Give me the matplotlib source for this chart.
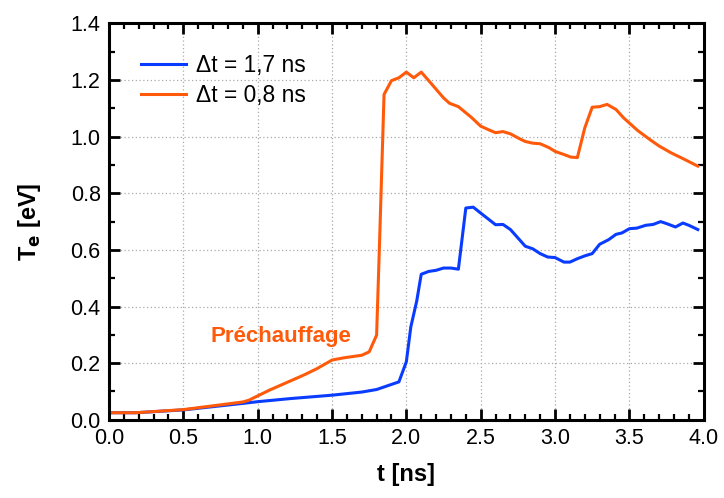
import matplotlib.pyplot as plt
from matplotlib.ticker import MultipleLocator, FormatStrFormatter

plt.rcParams['font.family'] = ['Liberation Sans', 'DejaVu Sans']

# dt = 1,7 ns (blue)
t_blue = [0.0, 0.18, 0.5, 0.9, 1.0, 1.22, 1.5, 1.70, 1.80, 1.95, 2.0, 2.03,
          2.07, 2.10, 2.15, 2.20, 2.25, 2.30, 2.35, 2.40, 2.45, 2.51, 2.60,
          2.65, 2.70, 2.80, 2.85, 2.90, 2.95, 3.00, 3.06, 3.10, 3.15, 3.20,
          3.25, 3.30, 3.36, 3.41, 3.45, 3.50, 3.55, 3.61, 3.66, 3.71, 3.75,
          3.81, 3.86, 3.90, 3.96]
te_blue = [0.025, 0.025, 0.035, 0.058, 0.064, 0.075, 0.087, 0.098, 0.107,
           0.134, 0.205, 0.328, 0.42, 0.514, 0.524, 0.528, 0.536, 0.536,
           0.532, 0.748, 0.751, 0.726, 0.689, 0.690, 0.672, 0.613, 0.604,
           0.587, 0.575, 0.573, 0.557, 0.557, 0.569, 0.579, 0.587, 0.620,
           0.636, 0.655, 0.660, 0.675, 0.677, 0.687, 0.690, 0.700, 0.693,
           0.681, 0.695, 0.687, 0.672]

# dt = 0,8 ns (orange)
t_orange = [0.0, 0.18, 0.5, 0.9, 0.94, 1.08, 1.31, 1.40, 1.5, 1.58, 1.70,
            1.75, 1.80, 1.82, 1.85, 1.90, 1.95, 2.0, 2.05, 2.10, 2.16, 2.25,
            2.29, 2.35, 2.44, 2.50, 2.555, 2.60, 2.65, 2.70, 2.76, 2.80, 2.85,
            2.90, 2.96, 3.00, 3.06, 3.105, 3.15, 3.20, 3.25, 3.30, 3.35, 3.41,
            3.46, 3.555, 3.645, 3.70, 3.78, 3.87, 3.96]
te_orange = [0.025, 0.025, 0.036, 0.063, 0.069, 0.105, 0.158, 0.181, 0.211,
             0.219, 0.228, 0.240, 0.299, 0.63, 1.149, 1.198, 1.208, 1.228,
             1.208, 1.228, 1.192, 1.137, 1.118, 1.106, 1.067, 1.037, 1.024,
             1.014, 1.018, 1.010, 0.993, 0.983, 0.977, 0.975, 0.961, 0.948,
             0.937, 0.928, 0.926, 1.031, 1.104, 1.106, 1.114, 1.096, 1.067,
             1.022, 0.987, 0.967, 0.943, 0.920, 0.896]

blue = '#0a3cff'
orange = '#ff5a0a'

fig = plt.figure(figsize=(7.24, 4.98), dpi=100)
ax = fig.add_axes([0.1505, 0.157, 0.8215, 0.796])

ax.plot(t_blue, te_blue, color=blue, lw=2.2, label='\u0394t = 1,7 ns')
ax.plot(t_orange, te_orange, color=orange, lw=2.2, label='\u0394t = 0,8 ns')

ax.set_xlim(0, 4.0)
ax.set_ylim(0, 1.4)
ax.xaxis.set_major_locator(MultipleLocator(0.5))
ax.xaxis.set_minor_locator(MultipleLocator(0.1))
ax.yaxis.set_major_locator(MultipleLocator(0.2))
ax.yaxis.set_minor_locator(MultipleLocator(0.1))
ax.xaxis.set_major_formatter(FormatStrFormatter('%.1f'))
ax.yaxis.set_major_formatter(FormatStrFormatter('%.1f'))

ax.grid(True, which='major', color='#aaaaaa', ls=(0, (1, 2)), lw=0.9)
ax.tick_params(which='both', direction='in', top=True, right=True,
               labelsize=15.5, width=2.0)
ax.tick_params(which='major', length=8, pad=6)
ax.tick_params(which='minor', length=4.5, width=1.6)
for s in ax.spines.values():
    s.set_linewidth(2.2)

ax.set_xlabel('t [ns]', fontsize=17, fontweight='bold', labelpad=10)
ax.set_ylabel('T$_\\mathbf{e}$ [eV]', fontsize=17, fontweight='bold',
              labelpad=20)

ax.text(0.68, 0.276, 'Préchauffage', color=orange, fontsize=16,
        fontweight='bold', va='baseline')

ax.legend(loc='upper left', frameon=False, fontsize=16.4, handlelength=1.95,
          bbox_to_anchor=(0.02, 0.975), labelspacing=0.3, handletextpad=0.45)

fig.savefig('out.png', dpi=100)
